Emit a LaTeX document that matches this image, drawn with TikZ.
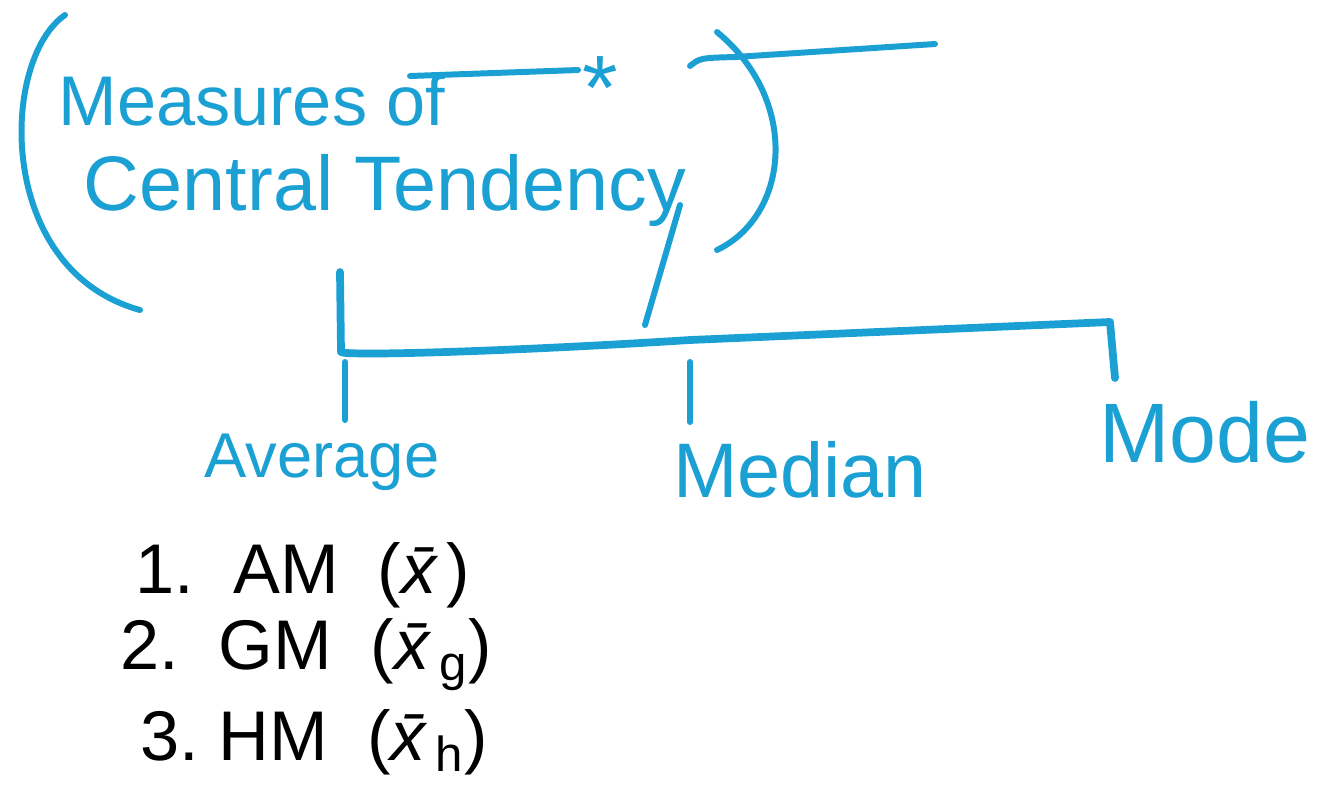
\documentclass[tikz,border=0pt]{standalone}
\usepackage{fontspec}
\setmainfont{Liberation Sans}
\definecolor{ink}{RGB}{27,160,212}
\newcommand{\xbar}{\textit{\=x}}
\begin{document}
\begin{tikzpicture}[x=0.01cm,y=-0.01cm,
  pen/.style={draw=ink,line width=1.7pt,line cap=round,line join=round},
  bluetxt/.style={text=ink,inner sep=0pt},
  blacktxt/.style={text=black,inner sep=0pt,anchor=west,font=\fontsize{20}{22}\selectfont}]
\useasboundingbox (0,0) rectangle (1323,796);
% title text
\node[bluetxt,font=\fontsize{20}{22}\selectfont] (t1) at (252,100) {Measures of};
\node[bluetxt,font=\fontsize{22}{24}\selectfont] (t2) at (385,190) {Central Tendency};
\node[bluetxt,font=\fontsize{26}{28}\selectfont] (star) at (600,88) {*};
% brackets
\draw[pen] (65,15) .. controls (0,60) and (-5,270) .. (140,310);
\draw[pen] (717,32) .. controls (800,100) and (790,215) .. (717,250);
% strike line and top-right line
\coordinate (s1) at (410,76);
\coordinate (s2) at (578,70);
\draw[pen] (s1) -- (s2);
\coordinate (r1) at (690,66);
\coordinate (r2) at (935,44);
\draw[pen] (r1) .. controls (700,58) .. (735,57) -- (r2);
% tree
\coordinate (v0) at (340,272);
\coordinate (bl) at (341,352);
\coordinate (br) at (1110,322);
\coordinate (brd) at (1115,378);
\coordinate (yt) at (680,205);
\coordinate (yb) at (645,325);
\draw[pen] (yt) -- (yb);
\draw[pen,line width=2.2pt] (v0) -- (bl) .. controls (345,356) and (500,352) .. (690,340) -- (br) -- (brd);
% children
\node[bluetxt,font=\fontsize{18}{20}\selectfont] (avg) at (322,462) {Average};
\node[bluetxt,font=\fontsize{22}{24}\selectfont] (med) at (800,470) {Median};
\node[bluetxt,font=\fontsize{24}{26}\selectfont] (mode) at (1205,432) {Mode};
\coordinate (a1) at (345,362);
\coordinate (m1) at (690,362);
\draw[pen] (a1) -- (345,420);
\draw[pen] (m1) -- (690,422);
% list
\node[blacktxt] (l1) at (135,575) {1.\ \ AM\ \ (\xbar)};
\node[blacktxt] (l2) at (120,655) {2.\ \ GM\ \ (\xbar\textsubscript{g})};
\node[blacktxt] (l3) at (140,742) {3.\ HM\ \ (\xbar\textsubscript{h})};
\end{tikzpicture}
\end{document}
